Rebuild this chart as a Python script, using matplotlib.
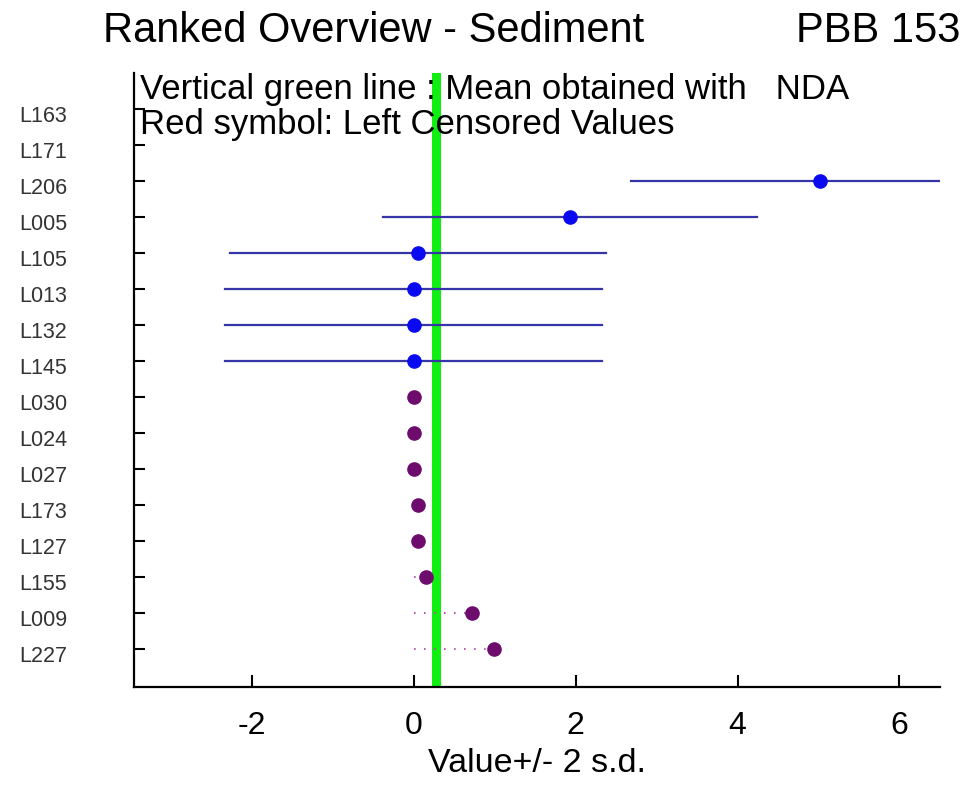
import numpy as np
import matplotlib
matplotlib.use("Agg")
import matplotlib.pyplot as plt
from matplotlib.transforms import ScaledTranslation

plt.rcParams['font.family'] = ['Liberation Sans', 'DejaVu Sans']

labs = ['L163', 'L171', 'L206', 'L005', 'L105', 'L013', 'L132', 'L145',
        'L030', 'L024', 'L027', 'L173', 'L127', 'L155', 'L009', 'L227']
values = [np.nan, np.nan, 5.02, 1.93, 0.05, 0.0, 0.0, 0.0,
          0.0, 0.0, 0.0, 0.05, 0.05, 0.15, 0.72, 0.99]
two_sd = [np.nan, np.nan, 2.34, 2.31, 2.32, 2.33, 2.33, 2.33,
          np.nan, np.nan, np.nan, np.nan, np.nan, np.nan, np.nan, np.nan]
censored = [False, False, False, False, False, False, False, False,
            True, True, True, True, True, True, True, True]
mean_nda = 0.28
xticks = [-2, 0, 2, 4, 6]

fig = plt.figure(figsize=(9.69, 7.86), dpi=100)
ax = fig.add_axes([0.1378, 0.126, 0.8322, 0.781])

pos = np.arange(1, len(labs) + 1)
vals = np.array(values)
sds = np.array(two_sd)
cens = np.array(censored)

# green mean line
ax.axvline(mean_nda, color='#11EE11', lw=6.5, zorder=1)

# uncensored with error bars
m = (~cens) & ~np.isnan(vals)
for y, v, s in zip(pos[m], vals[m], sds[m]):
    ax.plot([v - s, v + s], [y, y], color='#3535A8', lw=1.6, zorder=2)
ax.plot(vals[m], pos[m], 'o', color='#0A0AF0', ms=9.5, zorder=3)

# censored values
for y, v in zip(pos[cens], vals[cens]):
    ax.plot([0, v], [y, y], color='#B040A0', lw=1.2, ls=(0, (1, 5)), zorder=2)
ax.plot(vals[cens], pos[cens], 'o', color='#6E0C6E', ms=9.5, zorder=3)

ax.set_xlim(-3.46, 6.5)
ax.set_ylim(17.05, 0)

ax.set_yticks(pos)
ax.set_yticklabels(labs, fontsize=15.5, color='#333333', ha='left')
ax.tick_params(axis='y', direction='in', length=8, width=1.5, pad=82)
for lab in ax.get_yticklabels():
    lab.set_transform(lab.get_transform() + ScaledTranslation(0, -5 / 100, fig.dpi_scale_trans))

ax.set_xticks(xticks)
ax.set_xticklabels([str(t) for t in xticks], fontsize=23)
ax.tick_params(axis='x', direction='in', length=9, width=1.5, pad=17)

for s in ['top', 'right']:
    ax.spines[s].set_visible(False)
for s in ['left', 'bottom']:
    ax.spines[s].set_linewidth(1.6)

ax.set_xlabel('Value+/- 2 s.d.', fontsize=24.5, labelpad=5)

fig.text(103 / 969, 1 - 42 / 786, 'Ranked Overview - Sediment', fontsize=30, va='baseline', ha='left')
fig.text(960 / 969, 1 - 42 / 786, 'PBB 153', fontsize=30, va='baseline', ha='right')

fig.text(140 / 969, 1 - 99 / 786, 'Vertical green line : Mean obtained with   NDA',
         fontsize=25, va='baseline', ha='left')
fig.text(140 / 969, 1 - 134 / 786, 'Red symbol: Left Censored Values',
         fontsize=25, va='baseline', ha='left')

fig.savefig('out.png', dpi=100)
